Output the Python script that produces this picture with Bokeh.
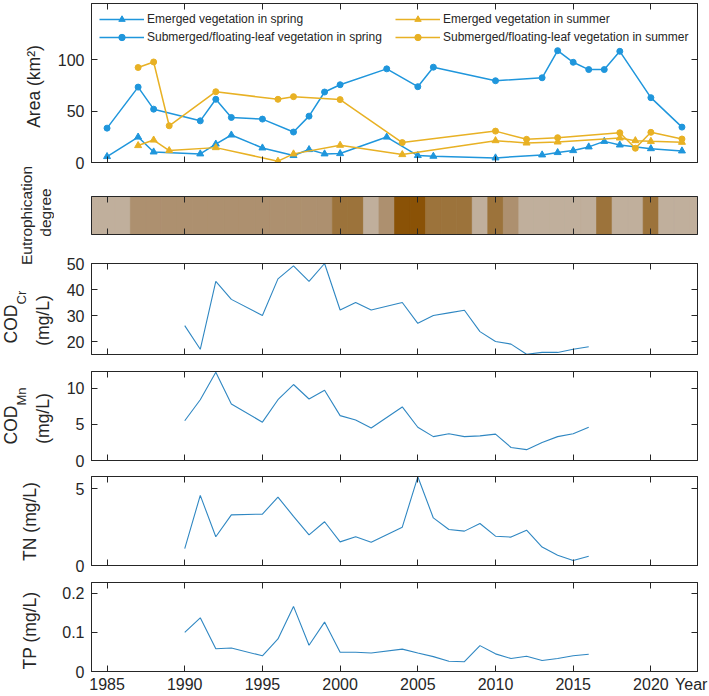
import math
from bokeh.plotting import figure
from bokeh.models import (Range1d, FixedTicker, LinearAxis, Label, Legend, LegendItem,
                          CustomJSTickFormatter, ColumnDataSource)
from bokeh.layouts import column, row
from bokeh.embed import file_html
from bokeh.resources import INLINE

# ---------------- data ----------------
years_spring = [1985, 1987, 1988, 1991, 1992, 1993, 1995, 1997, 1998, 1999, 2000, 2003,
                2005, 2006, 2010, 2013, 2014, 2015, 2016, 2017, 2018, 2020, 2022]
emerged_spring = [5.8, 24.8, 10.3, 8.4, 18.0, 26.8, 14.2, 6.8, 12.6, 8.4, 8.7, 24.8,
                  6.8, 6.1, 4.5, 7.4, 9.7, 11.6, 15.2, 20.6, 17.1, 13.5, 11.3]
submerged_spring = [33.5, 73.5, 52.0, 40.6, 61.6, 43.9, 42.3, 29.7, 45.2, 68.7, 75.8, 91.3,
                    73.9, 92.9, 79.7, 82.6, 109.0, 97.7, 90.6, 90.6, 108.4, 63.2, 34.5]

years_summer = [1987, 1988, 1989, 1992, 1996, 1997, 2000, 2004, 2010, 2012, 2014, 2018,
                2019, 2020, 2022]
emerged_summer = [16.5, 21.9, 11.6, 14.5, 1.3, 8.4, 16.8, 7.7, 21.3, 19.0, 20.0, 23.9,
                  21.3, 20.6, 19.7]
submerged_summer = [92.6, 98.0, 35.8, 69.0, 61.6, 64.2, 61.3, 19.4, 30.6, 22.6, 24.2, 29.0,
                    13.9, 29.4, 22.9]

eutro_years = list(range(1985, 2023))
eutro_level = [1, 1,
               2, 2, 2, 2, 2, 2, 2, 2, 2, 2, 2, 2, 2,
               3, 3, 1, 2, 4, 4, 3, 3, 3, 1, 3, 2,
               1, 1, 1, 1, 1, 3, 1, 1, 3, 1, 1]
eutro_palette = {1: "#c0af9c", 2: "#ad906f", 3: "#9c733b", 4: "#8a5206"}

wq_years = [1990, 1991, 1992, 1993, 1995, 1996, 1997, 1998, 1999, 2000, 2001, 2002, 2004,
            2005, 2006, 2007, 2008, 2009, 2010, 2011, 2012, 2013, 2014, 2015, 2016]
cod_cr = [26.1, 17.0, 43.1, 36.2, 30.0, 44.1, 49.1, 43.1, 50.0, 32.1, 35.0, 32.1, 35.0,
          27.0, 30.0, 31.0, 32.0, 23.8, 20.0, 19.0, 15.1, 15.8, 15.8, 17.0, 18.0]
cod_mn = [5.5, 8.4, 12.2, 7.8, 5.3, 8.4, 10.5, 8.5, 9.7, 6.2, 5.6, 4.5, 7.4,
          4.6, 3.3, 3.7, 3.3, 3.4, 3.65, 1.8, 1.5, 2.5, 3.3, 3.7, 4.6]
tn = [1.1, 4.57, 1.87, 3.3, 3.35, 4.46, 3.2, 2.0, 2.85, 1.54, 1.87, 1.52, 2.5,
      5.78, 3.1, 2.35, 2.24, 2.74, 1.91, 1.85, 2.3, 1.2, 0.67, 0.33, 0.6]
tp = [0.1, 0.137, 0.058, 0.06, 0.04, 0.083, 0.166, 0.067, 0.126, 0.049, 0.049, 0.047, 0.057,
      0.047, 0.038, 0.026, 0.025, 0.066, 0.045, 0.033, 0.039, 0.028, 0.033, 0.04, 0.044]

x_ticks = [1985, 1990, 1995, 2000, 2005, 2010, 2015, 2020]
x_tick_labels = {t: str(t) for t in x_ticks}
x_title = "Year"
x_title_pos = 2022.6

# ---------------- style ----------------
FONT = "Liberation Sans"
INK = "#262626"
BLUE = "#1f96dc"
GOLD = "#e8b124"
WQ = "#2f87c2"
X0, X1 = 1984, 2023
WTOT, HTOT = 709, 696
WL = 54                      # width of the y-title strip
W = WTOT - WL
LEFT_B, RIGHT_B = 89 - WL, 12


def make_fig(height, btop, bbot, y0, y1):
    p = figure(width=W, height=height, x_range=Range1d(X0, X1), y_range=Range1d(y0, y1),
               output_backend="svg", toolbar_location=None,
               min_border_left=LEFT_B, min_border_right=RIGHT_B,
               min_border_top=btop, min_border_bottom=bbot,
               x_axis_location=None, y_axis_location=None)
    p.xgrid.grid_line_color = None
    p.ygrid.grid_line_color = None
    p.outline_line_color = INK
    p.outline_line_width = 1
    p.background_fill_color = "white"
    p.border_fill_color = "white"
    return p


def style_axis(ax, show_labels, standoff=6, tick_in=6):
    ax.major_tick_in = tick_in
    ax.major_tick_out = 0
    ax.minor_tick_in = 0
    ax.minor_tick_out = 0
    ax.axis_line_color = INK
    ax.major_tick_line_color = INK
    ax.major_tick_line_width = 1
    if show_labels:
        ax.major_label_text_font = FONT
        ax.major_label_text_font_size = "16px"
        ax.major_label_text_color = INK
        ax.major_label_standoff = standoff
    else:
        ax.formatter = CustomJSTickFormatter(code="return ''")
        ax.major_label_text_font_size = "1px"
        ax.major_label_standoff = 0


def add_axes(p, yticks=None, xlabels=False, yoverrides=None):
    for loc in ("below", "above"):
        ax = LinearAxis(ticker=FixedTicker(ticks=x_ticks))
        style_axis(ax, False)
        p.add_layout(ax, loc)
    if xlabels:
        # tick-label row (no tick marks), carrying the "Year" title at the right end
        ax = LinearAxis(ticker=FixedTicker(ticks=x_ticks + [x_title_pos]))
        style_axis(ax, True, standoff=4, tick_in=0)
        ax.major_tick_line_color = None
        ax.axis_line_color = None
        ax.major_label_overrides = {**x_tick_labels, x_title_pos: x_title}
        p.add_layout(ax, "below")
    if yticks is not None:
        for loc in ("left", "right"):
            ax = LinearAxis(ticker=FixedTicker(ticks=yticks))
            style_axis(ax, loc == "left", standoff=7)
            if loc == "left" and yoverrides:
                ax.major_label_overrides = yoverrides
            p.add_layout(ax, loc)


# ---------------- y-title strip (page pixel coordinates) ----------------
lab = figure(width=WL, height=HTOT, x_range=Range1d(0, WL), y_range=Range1d(HTOT, 0),
             output_backend="svg", toolbar_location=None,
             min_border_left=0, min_border_right=0, min_border_top=0, min_border_bottom=0,
             x_axis_location=None, y_axis_location=None)
lab.xgrid.grid_line_color = None
lab.ygrid.grid_line_color = None
lab.outline_line_color = None
lab.background_fill_color = "white"
lab.border_fill_color = "white"


def ylab(text, px, py, size="17.5px", align="center"):
    lab.add_layout(Label(x=px, y=py, text=text, angle=math.pi / 2,
                         text_align=align, text_baseline="middle", text_font=FONT,
                         text_font_size=size, text_color=INK))


ylab("Area (km²)", 33, 86)
ylab("Eutrophication", 26, 215, size="15.5px")
ylab("degree", 45, 212, size="15.5px")
ylab("COD", 10, 343, align="left")
ylab("Cr", 20.5, 304, size="13px", align="left")
ylab("(mg/L)", 42, 320)
ylab("COD", 10, 444, align="left")
ylab("Mn", 20.5, 405, size="13px", align="left")
ylab("(mg/L)", 42, 418)
ylab("TN (mg/L)", 29, 521)
ylab("TP (mg/L)", 29, 630)

# ---------------- panel 1: vegetation area ----------------
p1 = make_fig(180, 3, 18, 0, 155)
add_axes(p1, yticks=[0, 50, 100])
src_sp = ColumnDataSource(dict(x=years_spring, e=emerged_spring, s=submerged_spring))
src_su = ColumnDataSource(dict(x=years_summer, e=emerged_summer, s=submerged_summer))

r_es_l = p1.line("x", "e", source=src_sp, color=BLUE, line_width=1.5)
r_es_m = p1.scatter("x", "e", source=src_sp, marker="triangle", size=7, color=BLUE)
r_ss_l = p1.line("x", "s", source=src_sp, color=BLUE, line_width=1.5)
r_ss_m = p1.scatter("x", "s", source=src_sp, marker="circle", size=6, color=BLUE)
r_eu_l = p1.line("x", "e", source=src_su, color=GOLD, line_width=1.5)
r_eu_m = p1.scatter("x", "e", source=src_su, marker="triangle", size=7, color=GOLD)
r_su_l = p1.line("x", "s", source=src_su, color=GOLD, line_width=1.5)
r_su_m = p1.scatter("x", "s", source=src_su, marker="circle", size=6, color=GOLD)


def make_legend(items, loc):
    lg = Legend(items=items, location=loc, orientation="vertical")
    lg.border_line_color = None
    lg.background_fill_alpha = 0
    lg.padding = 0
    lg.margin = 0
    lg.spacing = 2
    lg.glyph_width = 45
    lg.glyph_height = 16
    lg.label_height = 16
    lg.label_standoff = 3
    lg.label_text_font = FONT
    lg.label_text_font_size = "12px"
    lg.label_text_color = INK
    return lg


p1.add_layout(make_legend([
    LegendItem(label="Emerged vegetation in spring", renderers=[r_es_l, r_es_m]),
    LegendItem(label="Submerged/floating-leaf vegetation in spring", renderers=[r_ss_l, r_ss_m]),
], (8, 117)))
p1.add_layout(make_legend([
    LegendItem(label="Emerged vegetation in summer", renderers=[r_eu_l, r_eu_m]),
    LegendItem(label="Submerged/floating-leaf vegetation in summer", renderers=[r_su_l, r_su_m]),
], (304, 117)))

# ---------------- panel 2: eutrophication ----------------
p2 = make_fig(70, 16, 16, 0, 1)
p2.background_fill_color = eutro_palette[1]
src_eu = ColumnDataSource(dict(
    left=[y - 0.5 for y in eutro_years], right=[y + 0.5 for y in eutro_years],
    color=[eutro_palette[l] for l in eutro_level]))
p2.quad(left="left", right="right", bottom=0, top=1, source=src_eu,
        fill_color="color", line_color="color", line_width=0.6)
add_axes(p2, yticks=None)

# ---------------- panel 3: COD_Cr ----------------
p3 = make_fig(112, 13, 8, 15, 50)
p3.line(wq_years, cod_cr, color=WQ, line_width=1.1)
add_axes(p3, yticks=[20, 30, 40, 50])

# ---------------- panel 4: COD_Mn ----------------
p4 = make_fig(106, 9, 8, 0, 12.3)
p4.line(wq_years, cod_mn, color=WQ, line_width=1.1)
add_axes(p4, yticks=[0, 5, 10])

# ---------------- panel 5: TN ----------------
p5 = make_fig(106, 8, 9, 0, 5.8)
p5.line(wq_years, tn, color=WQ, line_width=1.1)
add_axes(p5, yticks=[0, 5])

# ---------------- panel 6: TP ----------------
p6 = make_fig(122, 8, 25, 0, 0.227)
p6.line(wq_years, tp, color=WQ, line_width=1.1)
add_axes(p6, yticks=[0, 0.1, 0.2], xlabels=True,
         yoverrides={0: "0", 0.1: "0.1", 0.2: "0.2"})

layout = row(lab, column(p1, p2, p3, p4, p5, p6, spacing=0), spacing=0)
open("out.html", "w").write(file_html(layout, INLINE))
